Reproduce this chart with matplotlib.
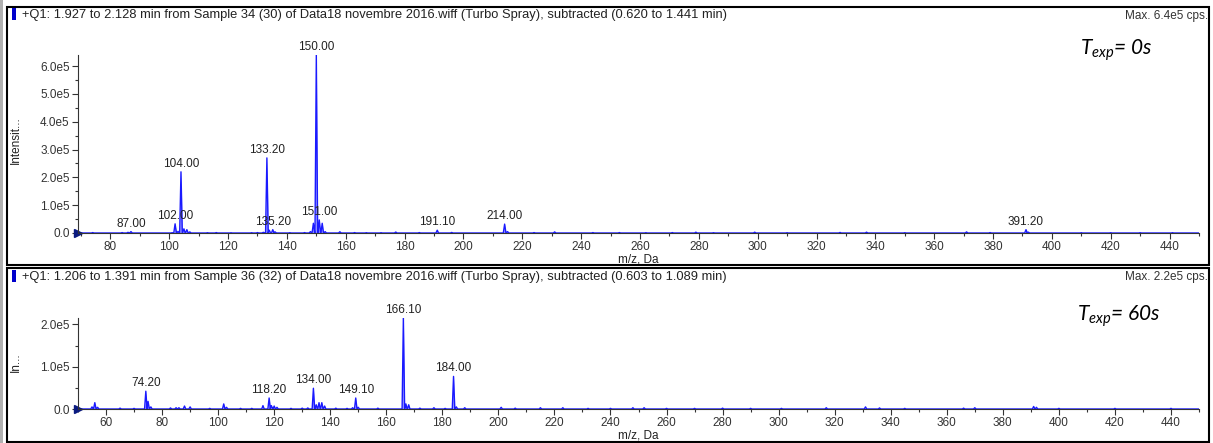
import numpy as np
import matplotlib.pyplot as plt
from matplotlib.patches import Rectangle

plt.rcParams['font.family'] = ['Liberation Sans', 'DejaVu Sans']
plt.rcParams['mathtext.fontset'] = 'custom'
plt.rcParams['mathtext.it'] = 'Lato:italic'
plt.rcParams['mathtext.rm'] = 'Lato:italic'

# spectrum 1 (T = 0 s): peak m/z and intensity (cps)
mz_0 = [74, 84, 86, 87, 101, 102, 103, 104, 105, 106, 107, 113, 116, 121, 128, 130,
        132, 133.2, 134, 135.2, 136, 141, 146, 148, 149, 150, 151, 152, 153, 158,
        163, 167, 172, 177, 185, 191.1, 196, 214, 215, 224, 231, 244, 253, 262,
        271, 279, 285, 299, 310, 328, 337, 350, 371, 379, 391.2, 392, 410, 420, 430, 441]
int_0 = [1500, 1500, 2500, 5000, 1000, 33000, 6000, 220000, 15000, 12000, 4000, 1000, 1500, 800, 1000, 1500,
         2500, 270000, 10000, 12000, 4000, 1000, 1500, 5000, 35000, 640000, 47000, 35000, 5000, 4500,
         1500, 1000, 1000, 3500, 1500, 10000, 2000, 32000, 5000, 1500, 4000, 1500, 1500, 1000,
         1500, 3000, 1000, 3000, 1000, 2000, 3000, 1000, 4000, 1500, 12000, 3000, 1000, 1000, 1000, 1000]
lab_0 = ['87.00', '102.00', '104.00', '133.20', '135.20', '150.00', '151.00', '191.10', '214.00', '391.20']
labmz_0 = [87, 102, 104, 133.2, 135.2, 150, 151, 191.1, 214, 391.2]

# spectrum 2 (T = 60 s)
mz_60 = [55, 56, 57, 65, 70, 74.2, 75, 76, 83, 85, 86, 88, 90, 97, 102, 103, 108, 112,
         116, 118.2, 119, 120, 121, 126, 130, 132, 134, 135, 136, 137, 138, 142, 146,
         148, 149.1, 150, 157, 166.1, 167, 168, 172, 177, 181, 184, 185, 188, 201,
         206, 215, 223, 232, 240, 248, 252, 260, 270, 280, 290, 301, 317, 331, 336,
         345, 366, 370, 391, 392, 400, 420, 440]
int_60 = [5000, 15000, 4000, 2000, 1500, 42000, 18000, 5000, 2500, 3000, 3000, 7000, 5000, 1500, 12000, 4000, 1500, 1500,
          8000, 26000, 8000, 7000, 4000, 1500, 2000, 2500, 49000, 10000, 15000, 15000, 7000, 2000, 1500,
          3000, 26000, 4000, 2000, 215000, 12000, 10000, 2000, 3000, 1500, 77000, 5000, 3000, 4000,
          2000, 3000, 3000, 1500, 1500, 3000, 3000, 1500, 1500, 2000, 1500, 1500, 3000, 5000, 2500,
          1500, 2000, 3000, 6000, 4000, 1500, 1500, 1500]
lab_60 = ['74.20', '118.20', '134.00', '149.10', '166.10', '184.00']
labmz_60 = [74.2, 118.2, 134, 149.1, 166.1, 184]

W, H = 1213, 443
fig = plt.figure(figsize=(W / 100, H / 100), dpi=100)
blue = '#1a1aff'


def px(x0, y0, w, h):
    return [x0 / W, 1 - (y0 + h) / H, w / W, h / H]


def draw(ax, mz, inten, labs, labmz, xlim, ylim, yticks):
    xs, ys = [xlim[0]], [0]
    for m, v in sorted(zip(mz, inten)):
        xs += [m - 0.45, m, m + 0.45]
        ys += [0, v, 0]
    xs.append(xlim[1])
    ys.append(0)
    ax.fill_between(xs, ys, color='#9a9aff', lw=0)
    ax.plot(xs, ys, color=blue, lw=1.0)
    hmap = dict(zip(mz, inten))
    for t, m in zip(labs, labmz):
        ax.annotate(t, (m, hmap[m]), xytext=(0, 1.5), textcoords='offset points',
                    ha='center', va='bottom', fontsize=8.5, color='#222222')
    major = np.arange(20 * np.ceil(xlim[0] / 20), xlim[1], 20)
    ax.set_xticks(major)
    ax.set_xticks(np.arange(10 * np.ceil(xlim[0] / 10), xlim[1] + 1, 10), minor=True)
    ax.set_yticks(yticks)
    ax.set_yticklabels(['%.1fe5' % (t / 1e5) if t else '0.0' for t in yticks])
    ax.set_yticks(np.arange(0, ylim[1], 50000), minor=True)
    ax.set_xlim(*xlim)
    ax.set_ylim(*ylim)
    for s in ['top', 'right']:
        ax.spines[s].set_visible(False)
    for s in ['left', 'bottom']:
        ax.spines[s].set_color('#333333')
        ax.spines[s].set_linewidth(0.8)
    ax.tick_params(labelsize=8.5, colors='#333333', length=4, width=0.8, pad=2)
    ax.tick_params(which='minor', length=2.5, width=0.8, colors='#333333')
    ax.set_xlabel('m/z, Da', fontsize=8.5, color='#222222', labelpad=0)
    ax.plot([0], [0], marker='>', color='#0a1a80', ms=6, transform=ax.get_yaxis_transform(),
            clip_on=False)
    ax.set_xlim(*xlim)
    ax.set_facecolor('none')


ax1 = fig.add_axes(px(78, 55, 1121, 178))
draw(ax1, mz_0, int_0, lab_0, labmz_0, (69, 450), (0, 640000),
     [0, 100000, 200000, 300000, 400000, 500000, 600000])
ax2 = fig.add_axes(px(78, 318, 1121, 91))
draw(ax2, mz_60, int_60, lab_60, labmz_60, (50, 450), (0, 215000), [0, 100000, 200000])

# panel frames
fig.add_artist(Rectangle((7 / W, 1 - 265 / H), 1202 / W, 258 / H, transform=fig.transFigure,
                         fill=False, ec='black', lw=1.5))
fig.add_artist(Rectangle((7 / W, 1 - 442 / H), 1202 / W, 174 / H, transform=fig.transFigure,
                         fill=False, ec='black', lw=1.5))
fig.add_artist(Rectangle((0, 0), 3 / W, 1, transform=fig.transFigure, color='#b0b0b0', lw=0))
for y0 in [8, 270]:
    fig.add_artist(Rectangle((12 / W, 1 - (y0 + 12) / H), 4 / W, 12 / H,
                             transform=fig.transFigure, color='#0000cc', lw=0))

fig.text(22 / W, 1 - 15 / H, '+Q1: 1.927 to 2.128 min from Sample 34 (30) of Data18 novembre 2016.wiff '
         '(Turbo Spray), subtracted (0.620 to 1.441 min)', fontsize=9.3, va='center', color='#222222')
fig.text(22 / W, 1 - 277 / H, '+Q1: 1.206 to 1.391 min from Sample 36 (32) of Data18 novembre 2016.wiff '
         '(Turbo Spray), subtracted (0.603 to 1.089 min)', fontsize=9.3, va='center', color='#222222')
fig.text(1208 / W, 1 - 16 / H, 'Max. 6.4e5 cps.', fontsize=8.5, ha='right', va='center', color='#333333')
fig.text(1208 / W, 1 - 277 / H, 'Max. 2.2e5 cps.', fontsize=8.5, ha='right', va='center', color='#333333')
fig.text(16 / W, 1 - 140 / H, 'Intensit...', fontsize=8.5, rotation=90, ha='center', va='center',
         color='#222222')
fig.text(16 / W, 1 - 362 / H, 'In...', fontsize=8.5, rotation=90, ha='center', va='center',
         color='#222222')
fig.text(1080 / W, 1 - 50 / H, r'$T_{exp}$= 0s', fontsize=15, fontfamily='Lato', fontstyle='italic',
         va='center')
fig.text(1077 / W, 1 - 316 / H, r'$T_{exp}$= 60s', fontsize=15, fontfamily='Lato', fontstyle='italic',
         va='center')

fig.savefig('out.png', dpi=100)
